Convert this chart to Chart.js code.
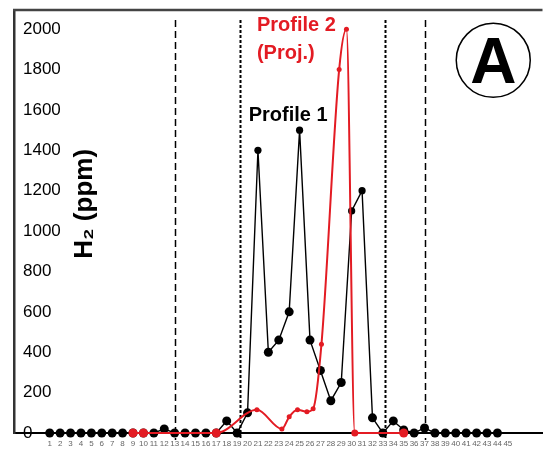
<!DOCTYPE html>
<html><head><meta charset="utf-8">
<script src="https://cdn.jsdelivr.net/npm/chart.js@4/dist/chart.umd.min.js"></script>
<style>html,body{margin:0;padding:0;background:#fff}#c{display:block}</style>
</head><body>
<canvas id="c" width="547" height="449"></canvas>
<script>
// ---- data ----
const categories = [1,2,3,4,5,6,7,8,9,10,11,12,13,14,15,16,17,18,19,20,21,22,23,24,25,26,27,28,29,30,31,32,33,34,35,36,37,38,39,40,41,42,43,44,45];
const profile1 = [0,0,0,0,0,0,0,0,0,0,0,20,0,0,0,0,0,60,0,100,1400,400,460,600,1500,460,310,160,250,1100,1200,75,0,60,15,0,25,0,0,0,0,0,0,0];
const profile2X = [9,10,17,20.9,23.3,24.0,24.8,25.7,26.3,27.1,28.8,29.5,30.3,35];
const profile2Y = [0,0,0,115,20,80,115,105,120,440,1800,2000,0,0];
const yTicks = [0,200,400,600,800,1000,1200,1400,1600,1800,2000];
const boundaries = [13,19.3,33.2,37];
const labelProfile1 = 'Profile 1';
const labelProfile2 = ['Profile 2','(Proj.)'];
const yTitle = 'H\u2082 (ppm)';
const panelLetter = 'A';

const FONT = '"Liberation Sans", Arial, Helvetica, sans-serif';
Chart.defaults.font.family = FONT;
const RED = '#e31b23';

const overlay = {
  id: 'overlay',
  beforeDatasetsDraw(chart) {
    const {ctx, scales: {x, y}, chartArea} = chart;
    ctx.save();
    boundaries.forEach((b, i) => {
      const longDash = (i === 0 || i === boundaries.length - 1);
      const px = Math.round(x.getPixelForValue(b)) + 0.5;
      ctx.beginPath();
      ctx.setLineDash(longDash ? [7, 4] : [3, 2]);
      ctx.lineWidth = longDash ? 1.5 : 2;
      ctx.strokeStyle = '#000';
      ctx.moveTo(px, y.getPixelForValue(2045));
      ctx.lineTo(px, chartArea.bottom + 7);
      ctx.stroke();
    });
    ctx.restore();
  },
  afterDraw(chart) {
    const {ctx, scales: {x, y}, chartArea} = chart;
    ctx.save();
    // top frame line
    ctx.beginPath();
    ctx.strokeStyle = '#444';
    ctx.lineWidth = 2.5;
    ctx.moveTo(chartArea.left - 1, chartArea.top);
    ctx.lineTo(chartArea.right, chartArea.top);
    ctx.stroke();
    // y title
    ctx.save();
    ctx.translate(x.getPixelForValue(4.33), y.getPixelForValue(1135));
    ctx.rotate(-Math.PI / 2);
    ctx.font = 'bold 26px ' + FONT;
    ctx.fillStyle = '#000';
    ctx.textAlign = 'center';
    ctx.textBaseline = 'middle';
    ctx.fillText(yTitle, 0, 0);
    ctx.restore();
    // profile labels
    ctx.font = 'bold 20px ' + FONT;
    ctx.textBaseline = 'middle';
    ctx.fillStyle = '#000';
    ctx.textAlign = 'center';
    ctx.fillText(labelProfile1, x.getPixelForValue(23.9), y.getPixelForValue(1573));
    ctx.fillStyle = RED;
    ctx.textAlign = 'left';
    ctx.fillText(labelProfile2[0], x.getPixelForValue(20.9), y.getPixelForValue(2020));
    ctx.fillText(labelProfile2[1], x.getPixelForValue(20.9), y.getPixelForValue(1880));
    // panel letter in circle
    const cx = x.getPixelForValue(43.6), cy = y.getPixelForValue(1846);
    ctx.beginPath();
    ctx.arc(cx, cy, 37, 0, Math.PI * 2);
    ctx.lineWidth = 1.5;
    ctx.strokeStyle = '#000';
    ctx.stroke();
    ctx.fillStyle = '#000';
    ctx.textAlign = 'center';
    ctx.textBaseline = 'alphabetic';
    ctx.font = 'bold 64px ' + FONT;
    ctx.fillText(panelLetter, cx, cy + 23);
    ctx.restore();
  }
};

new Chart(document.getElementById('c'), {
  type: 'line',
  data: {
    datasets: [
      {
        label: 'Profile 2 (Proj.)',
        data: profile2X.map((v, i) => ({x: v, y: profile2Y[i]})),
        borderColor: RED,
        backgroundColor: RED,
        borderWidth: 2,
        pointRadius: ctx => ([0, 1, 2, 13].includes(ctx.dataIndex) ? 4.5 : (ctx.dataIndex === 12 ? 3.5 : 2.5)),
        pointBorderWidth: 0,
        cubicInterpolationMode: 'monotone',
        clip: false,
        order: 0
      },
      {
        label: 'Profile 1',
        data: profile1.map((v, i) => ({x: categories[i], y: v})),
        borderColor: '#000',
        backgroundColor: '#000',
        borderWidth: 1.4,
        pointRadius: ctx => (ctx.raw && ctx.raw.y > 1000 ? 3.6 : 4.5),
        pointBorderWidth: 0,
        tension: 0,
        clip: false,
        order: 1
      }
    ]
  },
  options: {
    responsive: false,
    animation: false,
    layout: {padding: {left: 14, top: 10, right: 0, bottom: 0}},
    plugins: {legend: {display: false}, tooltip: {enabled: false}},
    scales: {
      x: {
        type: 'linear',
        min: -2.43,
        max: 48.33,
        afterBuildTicks: s => { s.ticks = categories.map(v => ({value: v})); },
        afterFit: s => { s.paddingLeft = 0; s.paddingRight = 0; s.height = 16; },
        ticks: {autoSkip: false, maxRotation: 0, font: {size: 8}, color: '#666', padding: 6, callback: v => String(v)},
        grid: {display: false, drawTicks: false},
        border: {display: true, color: '#000', width: 2}
      },
      y: {
        min: 0,
        max: 2095,
        afterBuildTicks: s => { s.ticks = yTicks.map(v => ({value: v})); },
        afterFit: s => { s.paddingTop = 0; s.paddingBottom = 0; s.width = 0; },
        ticks: {mirror: true, padding: 9, font: {size: 17}, color: '#000', callback: v => String(v)},
        grid: {display: false, drawTicks: false},
        border: {display: true, color: '#333', width: 2.5}
      }
    }
  },
  plugins: [overlay]
});
</script>
</body></html>
